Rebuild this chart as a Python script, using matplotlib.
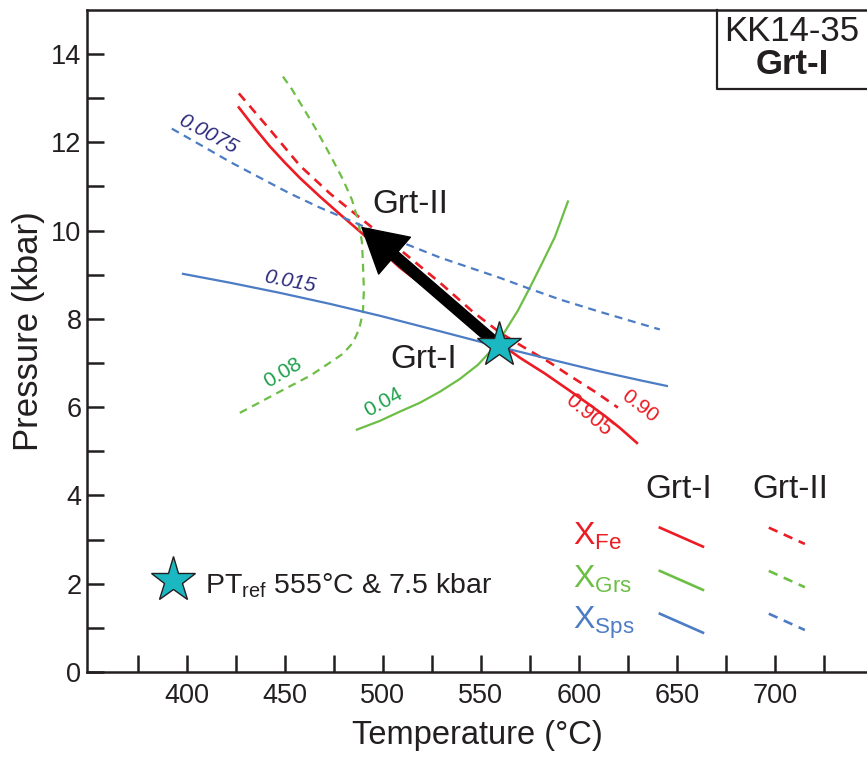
import matplotlib.pyplot as plt

plt.rcParams['font.family'] = ['Liberation Sans', 'DejaVu Sans']
plt.rcParams['mathtext.fontset'] = 'custom'
plt.rcParams['mathtext.rm'] = 'Liberation Sans'
plt.rcParams['mathtext.it'] = 'Liberation Sans:italic'

# isopleths: temperature (°C), pressure (kbar)
fe_grt1_t = [426.5, 434.7, 442.3, 450.0, 457.7, 467.9, 478.1, 488.3, 498.5, 508.7, 521.4,
             534.2, 546.9, 559.2, 569.9, 582.7, 595.4, 605.6, 613.3, 620.9, 629.6]
fe_grt1_p = [12.79, 12.32, 11.91, 11.54, 11.19, 10.77, 10.37, 9.98, 9.57, 9.16, 8.73,
             8.30, 7.87, 7.46, 7.12, 6.76, 6.37, 6.05, 5.80, 5.53, 5.19]
fe_grt2_t = [426.5, 442.3, 457.7, 473.0, 488.3, 508.7, 529.1, 545.9, 559.7, 571.4, 585.2,
             595.4, 608.2, 619.9]
fe_grt2_p = [13.11, 12.29, 11.47, 10.84, 10.29, 9.57, 8.82, 8.16, 7.69, 7.37, 7.01,
             6.71, 6.35, 5.99]

grs_grt1_t = [486.7, 498.5, 508.7, 518.9, 529.1, 539.3, 548.5, 555.6, 562.2, 568.9, 575.0,
              581.1, 587.8, 594.4]
grs_grt1_p = [5.49, 5.69, 5.90, 6.10, 6.35, 6.64, 6.96, 7.30, 7.71, 8.19, 8.71,
              9.25, 9.86, 10.66]
grs_grt2_t = [449.0, 453.6, 457.7, 465.3, 473.0, 479.6, 484.2, 487.2, 489.3, 489.8, 490.3,
              489.8, 487.8, 484.7, 479.6, 473.0, 462.8, 449.0, 437.2, 427.0]
grs_grt2_p = [13.49, 13.20, 12.90, 12.34, 11.72, 11.16, 10.70, 10.25, 9.75, 9.27, 8.66,
              8.14, 7.76, 7.46, 7.21, 7.01, 6.71, 6.39, 6.11, 5.87]

sps_grt1_t = [398.0, 421.9, 447.4, 473.0, 498.5, 529.1, 559.2, 590.3, 610.7, 631.1, 644.9]
sps_grt1_p = [9.02, 8.82, 8.59, 8.34, 8.07, 7.72, 7.37, 7.03, 6.81, 6.61, 6.48]
sps_grt2_t = [392.3, 406.6, 421.9, 437.2, 452.6, 467.9, 483.2, 498.5, 513.8, 529.1, 544.4,
              559.7, 575.0, 590.3, 610.7, 626.0, 641.3]
sps_grt2_p = [12.31, 11.95, 11.56, 11.20, 10.84, 10.52, 10.23, 9.93, 9.66, 9.39, 9.16,
              8.93, 8.68, 8.44, 8.16, 7.96, 7.76]

pt_ref = (559, 7.4)
arrow_tip = (489.3, 10.07)

red = '#ec1c24'
green = '#6dbe45'
blue = '#4c7cc4'
navy = '#2b2a7c'
dkgreen = '#1ea04b'
teal = '#1bb8c2'
ink = '#231f20'
dash = (0, (3.6, 2.6))

fig = plt.figure(figsize=(8.67, 7.58), dpi=100)
ax = fig.add_axes([0.1003, 0.1135, 0.8997, 0.8734])

ax.plot(fe_grt1_t, fe_grt1_p, color=red, lw=1.9)
ax.plot(fe_grt2_t, fe_grt2_p, color=red, lw=1.9, ls=dash)
ax.plot(grs_grt1_t, grs_grt1_p, color=green, lw=1.6)
ax.plot(grs_grt2_t, grs_grt2_p, color=green, lw=1.6, ls=dash)
ax.plot(sps_grt1_t, sps_grt1_p, color=blue, lw=1.6)
ax.plot(sps_grt2_t, sps_grt2_p, color=blue, lw=1.6, ls=dash)

ax.annotate('', xy=arrow_tip, xytext=pt_ref,
            arrowprops=dict(arrowstyle='simple,head_length=31,head_width=35,tail_width=7.5',
                            mutation_scale=1, color='black', shrinkA=0, shrinkB=0))
ax.plot(*pt_ref, marker='*', ms=34, color=teal, mec=ink, mew=1.0, zorder=5)

# isopleth labels
ax.text(410.7, 12.18, '0.0075', color=navy, fontsize=15, style='italic',
        rotation=-28, ha='center', va='center', rotation_mode='anchor')
ax.text(452.6, 8.84, '0.015', color=navy, fontsize=15, style='italic',
        rotation=-11, ha='center', va='center', rotation_mode='anchor')
ax.text(449.0, 6.78, '0.08', color=dkgreen, fontsize=15,
        rotation=31, ha='center', va='center', rotation_mode='anchor')
ax.text(500.0, 6.12, '0.04', color=dkgreen, fontsize=15,
        rotation=29, ha='center', va='center', rotation_mode='anchor')
ax.text(604.6, 5.83, '0.905', color=red, fontsize=15.5,
        rotation=-40, ha='center', va='center', rotation_mode='anchor')
ax.text(631.1, 6.01, '0.90', color=red, fontsize=15,
        rotation=-38, ha='center', va='center', rotation_mode='anchor')

ax.text(494.4, 10.41, 'Grt-II', fontsize=24, color=ink)
ax.text(503.6, 6.89, 'Grt-I', fontsize=24, color=ink)

# legend
ax.text(633.7, 3.95, 'Grt-I', fontsize=24, color=ink)
ax.text(688.3, 3.95, 'Grt-II', fontsize=24, color=ink)
rows = [('X$_{\\mathregular{Fe}}$', red, 3.27), ('X$_{\\mathregular{Grs}}$', green, 2.29),
        ('X$_{\\mathregular{Sps}}$', blue, 1.32)]
for lab, c, p in rows:
    ax.text(597, p - 0.2, lab, color=c, fontsize=23, va='center')
    ax.plot([641.3, 663.3], [p, p - 0.43], color=c, lw=1.9)
    ax.plot([696.9, 715.3], [p, p - 0.37], color=c, lw=1.9, ls=dash)

ax.plot(392.9, 2.09, marker='*', ms=34, color=teal, mec=ink, mew=1.0)
ax.text(409.2, 1.77, 'PT$_{\\mathregular{ref}}$ 555°C & 7.5 kbar', fontsize=20.5, color=ink)

# sample box
ax.plot([0.808, 0.808, 1.0], [1.0, 0.881, 0.881], transform=ax.transAxes,
        color=ink, lw=1.6, clip_on=False)
ax.text(0.904, 0.968, 'KK14-35', transform=ax.transAxes, fontsize=25,
        ha='center', va='center', color=ink)
ax.text(0.904, 0.917, 'Grt-I', transform=ax.transAxes, fontsize=25,
        fontweight='bold', ha='center', va='center', color=ink)

ax.set_xlim(349, 747)
ax.set_ylim(0, 15)
ax.set_xticks([400, 450, 500, 550, 600, 650, 700])
ax.set_xticks([375, 425, 475, 525, 575, 625, 675, 725], minor=True)
ax.set_yticks([0, 2, 4, 6, 8, 10, 12, 14])
ax.set_yticks([1, 3, 5, 7, 9, 11, 13], minor=True)
ax.tick_params(which='both', direction='in', length=12, width=1.8, color=ink,
               labelsize=19.5, labelcolor=ink)
ax.tick_params(axis='x', pad=8)
ax.tick_params(axis='y', pad=4)
ax.spines['right'].set_visible(False)
for s in ['left', 'bottom', 'top']:
    ax.spines[s].set_linewidth(1.8)
    ax.spines[s].set_color(ink)

ax.set_xlabel('Temperature (°C)', fontsize=23.5, color=ink, labelpad=8)
ax.set_ylabel('Pressure (kbar)', fontsize=25, color=ink)
ax.yaxis.set_label_coords(-0.054, 0.515)

fig.savefig('out.png', dpi=100)
